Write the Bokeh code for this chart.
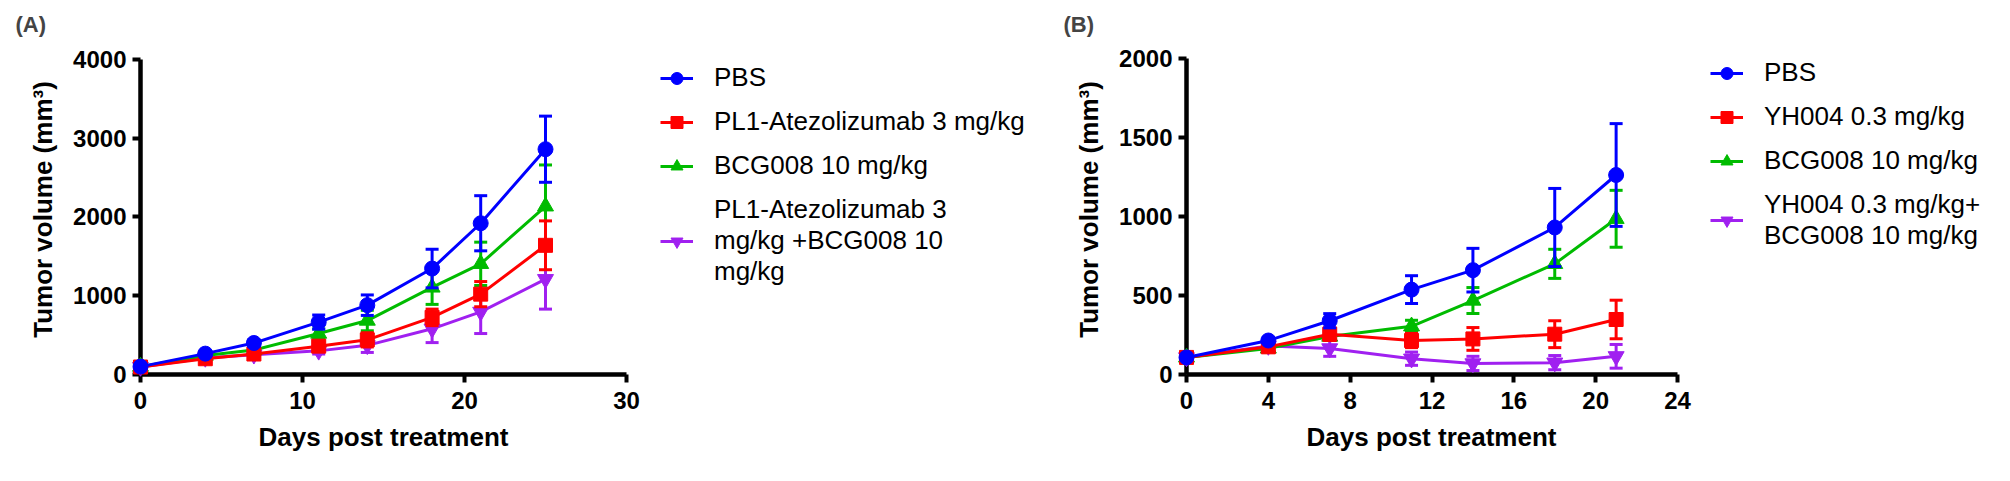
from bokeh.plotting import figure
from bokeh.models import Range1d, FixedTicker, Legend, LegendItem, ColumnDataSource, Title
from bokeh.layouts import row
from bokeh.embed import file_html
from bokeh.resources import INLINE

FONT = "Liberation Sans"

# ---------------- data ----------------
# Panel A
days_a = [0, 4, 7, 11, 14, 18, 21, 25]
pbs_a = [100, 265, 400, 665, 880, 1345, 1920, 2860]
pbs_a_err = [20, 30, 40, 90, 130, 245, 350, 420]
pl1_a = [95, 200, 260, 360, 440, 725, 1020, 1640]
pl1_a_err = [15, 20, 30, 50, 90, 105, 160, 310]
bcg_a = [100, 240, 310, 520, 685, 1105, 1405, 2135]
bcg_a_err = [15, 25, 30, 60, 130, 215, 275, 525]
combo_a = [95, 210, 250, 300, 370, 580, 795, 1210]
combo_a_err = [15, 20, 30, 40, 90, 175, 275, 380]
labels_a = ["PBS", "PL1-Atezolizumab 3 mg/kg", "BCG008 10 mg/kg",
            "PL1-Atezolizumab 3\nmg/kg +BCG008 10\nmg/kg"]
xticks_a = [0, 10, 20, 30]
yticks_a = [0, 1000, 2000, 3000, 4000]

# Panel B
days_b = [0, 4, 7, 11, 14, 18, 21]
pbs_b = [108, 215, 340, 537, 660, 930, 1262]
pbs_b_err = [15, 20, 45, 88, 138, 247, 325]
yh_b = [108, 175, 255, 215, 225, 255, 348]
yh_b_err = [15, 15, 40, 45, 72, 85, 122]
bcg_b = [108, 165, 240, 305, 468, 700, 985]
bcg_b_err = [15, 15, 25, 38, 82, 92, 180]
combo_b = [108, 180, 165, 100, 70, 75, 115]
combo_b_err = [15, 15, 50, 42, 45, 45, 75]
labels_b = ["PBS", "YH004 0.3 mg/kg", "BCG008 10 mg/kg",
            "YH004 0.3 mg/kg+\nBCG008 10 mg/kg"]
xticks_b = [0, 4, 8, 12, 16, 20, 24]
yticks_b = [0, 500, 1000, 1500, 2000]

colors = ["#0000FF", "#FF0000", "#00BB00", "#A020F0"]
markers = ["circle", "square", "triangle", "inverted_triangle"]
msizes = [15, 14, 16, 16]

x_title = "Days post treatment"
y_title = "Tumor volume (mm³)"


def panel(tag, tag_offset, width, height, bl, bt, bb, axis_w, axis_h, xmax, ymax,
          xticks, yticks, days, values, errors, labels, legend_loc, xtitle_offset):
    frame_w = width - bl
    frame_h = height - bt - bb
    # the frame is larger than the drawn axes so that the legend fits inside
    # it; the axes themselves are limited with `bounds`
    x_end = xmax * frame_w / axis_w
    y_end = ymax * frame_h / axis_h
    p = figure(width=width, height=height, x_range=Range1d(0, x_end),
               y_range=Range1d(0, y_end),
               output_backend="svg", toolbar_location=None, title=tag,
               min_border_left=bl, min_border_top=bt, min_border_right=0,
               min_border_bottom=bb)
    p.title.text_font = FONT
    p.title.text_font_size = "22px"
    p.title.text_font_style = "bold"
    p.title.align = "left"
    p.title.offset = tag_offset
    p.title.standoff = 16
    p.grid.visible = False
    p.outline_line_color = None
    p.background_fill_color = "white"
    p.border_fill_color = "white"

    p.xaxis.ticker = FixedTicker(ticks=xticks)
    p.yaxis.ticker = FixedTicker(ticks=yticks)
    p.xaxis.bounds = (0, xmax)
    p.yaxis.bounds = (0, ymax)
    for ax in (p.xaxis[0], p.yaxis[0]):
        ax.axis_line_width = 4.5
        ax.axis_line_color = "black"
        ax.major_tick_line_width = 4
        ax.major_tick_line_color = "black"
        ax.major_tick_out = 8
        ax.major_tick_in = 0
        ax.minor_tick_out = 0
        ax.minor_tick_in = 0
        ax.major_label_text_font = FONT
        ax.major_label_text_font_size = "24px"
        ax.major_label_text_font_style = "bold"
        ax.major_label_text_color = "black"
        ax.axis_label_text_font = FONT
        ax.axis_label_text_font_size = "26px"
        ax.axis_label_text_font_style = "bold"
        ax.axis_label_text_color = "black"
    p.yaxis.axis_label = y_title
    p.xaxis.major_label_standoff = 9
    p.yaxis.major_label_standoff = 6
    p.yaxis.axis_label_standoff = 12

    # x-axis title, centred under the drawn part of the axis
    p.add_layout(Title(text=x_title, align="left", offset=xtitle_offset,
                       text_font=FONT, text_font_size="26px",
                       text_font_style="bold", text_color="black",
                       standoff=17), "below")

    items = [None] * len(values)
    for i in reversed(range(len(values))):
        c = colors[i]
        lo = [v - e for v, e in zip(values[i], errors[i])]
        hi = [v + e for v, e in zip(values[i], errors[i])]
        src = ColumnDataSource(dict(x=days, y=values[i], lo=lo, hi=hi))
        seg = p.segment(x0="x", y0="lo", x1="x", y1="hi", source=src,
                        line_color=c, line_width=3)
        cap1 = p.scatter("x", "hi", source=src, marker="dash", size=13,
                         line_color=c, line_width=3)
        cap2 = p.scatter("x", "lo", source=src, marker="dash", size=13,
                         line_color=c, line_width=3)
        ln = p.line("x", "y", source=src, line_color=c, line_width=3)
        sc = p.scatter("x", "y", source=src, marker=markers[i], size=msizes[i],
                       fill_color=c, line_color=c, line_width=1)
        for r in (seg, cap1, cap2, ln, sc):
            r.level = "overlay"
        items[i] = LegendItem(label=labels[i], renderers=[ln, sc])

    leg = Legend(items=items, location=legend_loc, orientation="vertical",
                 label_text_font=FONT, label_text_font_size="26px",
                 label_text_color="black", label_text_line_height=1.0,
                 glyph_width=33, glyph_height=30, label_height=30,
                 label_standoff=21, spacing=13, padding=0, margin=0,
                 border_line_color=None, background_fill_alpha=0)
    p.add_layout(leg, "center")
    return p


# panel A: frame top 42, axis 0 at y=374 -> drawn axis height 317
pa = panel("(A)", -125, 1036, 465, 140, 42, 91, 486, 317, 30, 4000,
           xticks_a, yticks_a, days_a, [pbs_a, pl1_a, bcg_a, combo_a],
           [pbs_a_err, pl1_a_err, bcg_a_err, combo_a_err], labels_a, (520, 87), 118)
# panel B: frame top 44, axis 0 at y=378 -> drawn axis height 320
pb = panel("(B)", -123, 974, 465, 150, 44, 87, 491, 320, 24, 2000,
           xticks_b, yticks_b, days_b, [pbs_b, yh_b, bcg_b, combo_b],
           [pbs_b_err, yh_b_err, bcg_b_err, combo_b_err], labels_b, (524, 123), 120)

layout = row(pa, pb)
open("out.html", "w").write(file_html(layout, INLINE))
